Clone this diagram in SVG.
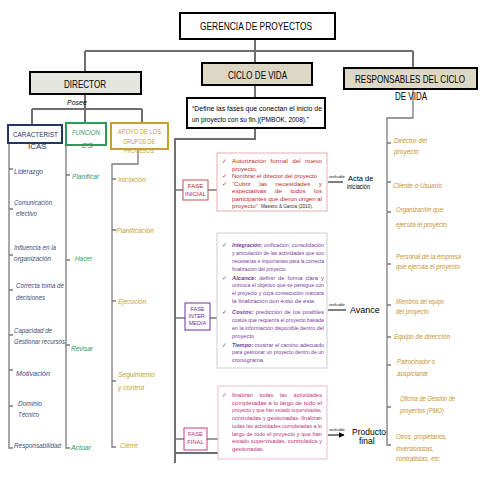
<svg xmlns="http://www.w3.org/2000/svg" width="480" height="480" viewBox="0 0 480 480">
<defs>
<marker id="ah" viewBox="0 0 10 10" refX="9" refY="5" markerWidth="6" markerHeight="6" orient="auto"><path d="M0,0 L10,5 L0,10 z" fill="#000"/></marker>
<style>
text{font-family:"Liberation Sans",Arial,sans-serif}
.hdr{fill:#000;font-size:11px}
.main{stroke:#6f6f6f;stroke-width:2;fill:none}
.thin{stroke:#7a7a7a;stroke-width:1.3;fill:none}
.nv{fill:#3a4d7a;font-size:8px;font-style:italic}
.gr{fill:#2e9a5a;font-size:8px;font-style:italic}
.gd{fill:#c9a030;font-size:8px;font-style:italic}
.or{fill:#c8922a;font-size:8px;font-style:italic}
.t1{fill:#c0282d;font-size:6.2px}
.t2{fill:#7a3a9a;font-size:5.8px}
.t3{fill:#c0307a;font-size:5.7px}
.ver{font-size:3.5px;fill:#000}
</style>
</defs>

<g id="connectors">
<path class="main" d="M255,39 V51 M85,51 H413 M85,51 V72 M255,51 V63 M413,51 V68"/>
<path class="main" d="M85,94 V109 M32,109 H142 M32,109 V125 M85,109 V123 M142,109 V123"/>
<path class="main" d="M255,85 V98 M255,128 V139 H175 V463 M175,453 H218"/>
<path class="thin" d="M175,190 H183 M208,190 H217 M175,318 H185 M210,318 H217 M175,439 H184 M207,439 H218"/>
<path class="thin" d="M9,143 V448 H13 M9,169 H13 M9,209 H13 M9,255 H13 M9,290 H13 M9,335 H13 M9,370 H13 M9,406 H13"/>
<path class="thin" d="M66,145 V448 H70 M66,175 H70 M66,260 H70 M66,345 H70"/>
<path class="thin" d="M138,149 V164 H112 V447 H116 M112,179 H116 M112,230 H116 M112,301 H116 M112,381 H116"/>
<path class="thin" d="M413,89 V118 H387 V445 H391 M387,143 H391 M387,182 H391 M387,212 H391 M387,264 H391 M387,305 H391 M387,337 H391 M387,365 H391 M387,407 H391"/>
<path stroke="#000" stroke-width="1" d="M328,182 H343 M328,310 H346 M328,435 H344" marker-end="url(#ah)"/>
<text class="ver" x="329" y="178">verificable</text>
<text class="ver" x="329" y="306">verificable</text>
<text class="ver" x="329" y="431">verificable</text>
</g>

<g id="gerencia">
<rect x="180" y="13" width="155" height="26" fill="#fff" stroke="#000" stroke-width="2"/>
<text class="hdr" x="200" y="30" textLength="112" lengthAdjust="spacingAndGlyphs">GERENCIA DE  PROYECTOS</text>
</g>

<g id="director">
<rect x="30" y="72" width="111" height="22" fill="#e6e6e1" stroke="#000" stroke-width="2"/>
<text class="hdr" x="64" y="88" font-size="12" textLength="42" lengthAdjust="spacingAndGlyphs">DIRECTOR</text>
<text x="67" y="105" font-size="7" font-style="italic" fill="#000">Posee</text>
</g>

<g id="ciclo">
<rect x="202" y="63" width="110" height="22" fill="#ddd8c6" stroke="#000" stroke-width="2"/>
<text class="hdr" x="228" y="79" textLength="59" lengthAdjust="spacingAndGlyphs">CICLO DE VIDA</text>
</g>

<g id="cita">
<rect x="187" y="98" width="138" height="30" fill="#fff" stroke="#000" stroke-width="2"/>
<text x="192" y="111" font-size="7.6" textLength="130" lengthAdjust="spacingAndGlyphs">“Define las fases que conectan el inicio de</text>
<text x="192" y="122" font-size="7.6" textLength="117" lengthAdjust="spacingAndGlyphs">un proyecto con su fin.|(PMBOK, 2008).”</text>
</g>

<g id="responsables">
<rect x="344" y="68" width="133" height="21" fill="#ddd8c6" stroke="#000" stroke-width="2"/>
<text class="hdr" x="355" y="83" textLength="110" lengthAdjust="spacingAndGlyphs">RESPONSABLES DEL  CICLO</text>
<text class="hdr" x="395" y="100" textLength="32" lengthAdjust="spacingAndGlyphs">DE VIDA</text>
</g>

<g id="caracteristicas">
<rect x="8" y="125" width="54" height="18" fill="#fff" stroke="#1f3864" stroke-width="2"/>
<text x="13" y="137" font-size="8" fill="#1f3864" textLength="45" lengthAdjust="spacingAndGlyphs">CARACTERIST</text>
<text x="28" y="149" font-size="8" fill="#1f3864">ICAS</text>
</g>

<g id="funciones">
<rect x="66" y="123" width="40" height="22" fill="#fff" stroke="#2e9a5a" stroke-width="2"/>
<text x="72" y="135" font-size="8" font-style="italic" fill="#2e9a5a" textLength="28" lengthAdjust="spacingAndGlyphs">FUNCION</text>
<text x="82" y="148" font-size="8" font-style="italic" fill="#2e9a5a">ES</text>
</g>

<g id="apoyo">
<rect x="111" y="123" width="57" height="26" fill="#fff" stroke="#c9a030" stroke-width="2"/>
<text x="118" y="134" font-size="7" fill="#c9a030" textLength="43" lengthAdjust="spacingAndGlyphs">APOYO DE LOS</text>
<text x="123" y="144" font-size="7" fill="#c9a030" textLength="32" lengthAdjust="spacingAndGlyphs">GRUPOS DE</text>
<text x="124" y="153" font-size="7" fill="#c9a030" textLength="30" lengthAdjust="spacingAndGlyphs">PROCESOS</text>
</g>

<g id="lista-caracteristicas">
<text class="nv" x="14" y="174" textLength="29" lengthAdjust="spacingAndGlyphs">Liderazgo</text>
<text class="nv" x="14" y="205" textLength="38" lengthAdjust="spacingAndGlyphs">Comunicación</text>
<text class="nv" x="16" y="216" textLength="21" lengthAdjust="spacingAndGlyphs">efectivo</text>
<text class="nv" x="14" y="250" textLength="42" lengthAdjust="spacingAndGlyphs">Influencia en la</text>
<text class="nv" x="14" y="261" textLength="37" lengthAdjust="spacingAndGlyphs">organización</text>
<text class="nv" x="16" y="288" textLength="48" lengthAdjust="spacingAndGlyphs">Correcta toma de</text>
<text class="nv" x="16" y="300" textLength="29" lengthAdjust="spacingAndGlyphs">decisiones</text>
<text class="nv" x="14" y="333" textLength="38" lengthAdjust="spacingAndGlyphs">Capacidad de</text>
<text class="nv" x="14" y="344" textLength="51" lengthAdjust="spacingAndGlyphs">Gestionar recursos</text>
<text class="nv" x="16" y="376" textLength="34" lengthAdjust="spacingAndGlyphs">Motivación</text>
<text class="nv" x="18" y="406" textLength="24" lengthAdjust="spacingAndGlyphs">Dominio</text>
<text class="nv" x="18" y="417" textLength="21" lengthAdjust="spacingAndGlyphs">Técnico</text>
<text class="nv" x="14" y="448" textLength="47" lengthAdjust="spacingAndGlyphs">Responsabilidad</text>
</g>

<g id="lista-funciones">
<text class="gr" x="72" y="179" textLength="27" lengthAdjust="spacingAndGlyphs">Planificar</text>
<text class="gr" x="75" y="261" textLength="17" lengthAdjust="spacingAndGlyphs">Hacer</text>
<text class="gr" x="71" y="351" textLength="22" lengthAdjust="spacingAndGlyphs">Revisar</text>
<text class="gr" x="71" y="450" textLength="20" lengthAdjust="spacingAndGlyphs">Actuar</text>
</g>

<g id="lista-apoyo">
<text class="gd" x="118" y="182" textLength="28" lengthAdjust="spacingAndGlyphs">Iniciación</text>
<text class="gd" x="116" y="233" textLength="38" lengthAdjust="spacingAndGlyphs">Planificación</text>
<text class="gd" x="118" y="304" textLength="28" lengthAdjust="spacingAndGlyphs">Ejecución</text>
<text class="gd" x="118" y="377" textLength="37" lengthAdjust="spacingAndGlyphs">Seguimiento</text>
<text class="gd" x="118" y="390" textLength="26" lengthAdjust="spacingAndGlyphs">y control</text>
<text class="gd" x="120" y="448" textLength="18" lengthAdjust="spacingAndGlyphs">Cierre</text>
</g>

<g id="lista-responsables">
<text class="or" x="394" y="143" textLength="33" lengthAdjust="spacingAndGlyphs">Director del</text>
<text class="or" x="394" y="154" textLength="25" lengthAdjust="spacingAndGlyphs">proyecto</text>
<text class="or" x="393" y="188" textLength="49" lengthAdjust="spacingAndGlyphs">Cliente o Usuario</text>
<text class="or" x="396" y="212" textLength="47" lengthAdjust="spacingAndGlyphs">Organización que</text>
<text class="or" x="396" y="227" textLength="51" lengthAdjust="spacingAndGlyphs">ejecuta el proyecto</text>
<text class="or" x="396" y="259" textLength="65" lengthAdjust="spacingAndGlyphs">Personal de la empresa</text>
<text class="or" x="396" y="269" textLength="64" lengthAdjust="spacingAndGlyphs">que ejecuta el proyecto</text>
<text class="or" x="396" y="304" textLength="48" lengthAdjust="spacingAndGlyphs">Miembros del equipo</text>
<text class="or" x="396" y="314" textLength="33" lengthAdjust="spacingAndGlyphs">del proyecto</text>
<text class="or" x="394" y="339" textLength="56" lengthAdjust="spacingAndGlyphs">Equipo de dirección</text>
<text class="or" x="397" y="364" textLength="38" lengthAdjust="spacingAndGlyphs">Patrocinador o</text>
<text class="or" x="397" y="376" textLength="31" lengthAdjust="spacingAndGlyphs">auspiciante</text>
<text class="or" x="400" y="401" textLength="55" lengthAdjust="spacingAndGlyphs">Oficina de Gestión de</text>
<text class="or" x="400" y="413" textLength="44" lengthAdjust="spacingAndGlyphs">proyectos (PMO)</text>
<text class="or" x="396" y="439" textLength="51" lengthAdjust="spacingAndGlyphs">Otros: propietarios,</text>
<text class="or" x="396" y="451" textLength="38" lengthAdjust="spacingAndGlyphs">inversionistas,</text>
<text class="or" x="396" y="461" textLength="45" lengthAdjust="spacingAndGlyphs">contratistas, etc.</text>
</g>

<g id="fase-inicial">
<rect x="183" y="180" width="25" height="20" fill="#fff" stroke="#c0504d" stroke-width="1"/>
<text x="195.5" y="188" font-size="6" fill="#c0282d" text-anchor="middle">FASE</text>
<text x="195.5" y="196" font-size="6" fill="#c0282d" text-anchor="middle">INICIAL</text>
<rect x="217" y="153" width="110" height="58" fill="#fff" stroke="#e8b0b0" stroke-width="1"/>
<text class="t1" x="222" y="163">✓</text>
<text class="t1" y="163"><tspan x="232">Autorización</tspan><tspan x="270.6">formal</tspan><tspan x="292.3">del</tspan><tspan x="305.1">nuevo</tspan></text>
<text class="t1" x="232" y="170.5">proyecto.</text>
<text class="t1" x="222" y="178">✓</text>
<text class="t1" x="232" y="178" textLength="85" lengthAdjust="spacingAndGlyphs">Nombrar el director del proyecto</text>
<text class="t1" x="222" y="185.5">✓</text>
<text class="t1" y="185.5"><tspan x="232">“Cubrir</tspan><tspan x="259.3">las</tspan><tspan x="275.6">necesidades</tspan><tspan x="318.8">y</tspan></text>
<text class="t1" y="193"><tspan x="232">expectativas</tspan><tspan x="275">de</tspan><tspan x="290.4">todos</tspan><tspan x="314.1">los</tspan></text>
<text class="t1" x="232" y="200.5" textLength="90" lengthAdjust="spacingAndGlyphs">participantes que dieron origen al</text>
<text class="t1" x="232" y="208">proyecto”</text>
<text x="261" y="208" font-size="5.6" fill="#3a2a2a" textLength="52" lengthAdjust="spacingAndGlyphs">Maestro &amp; García (2010).</text>
<text x="348" y="181" font-size="7.5" fill="#000">Acta de</text>
<text x="347" y="189" font-size="7.5" fill="#000" textLength="23" lengthAdjust="spacingAndGlyphs">iniciación</text>
</g>

<g id="fase-intermedia">
<rect x="185" y="303" width="25" height="27" fill="#fff" stroke="#7030a0" stroke-width="1"/>
<text x="197.5" y="311" font-size="5.5" fill="#7030a0" text-anchor="middle">FASE</text>
<text x="197.5" y="318" font-size="5.5" fill="#7030a0" text-anchor="middle">INTER-</text>
<text x="197.5" y="325" font-size="5.5" fill="#7030a0" text-anchor="middle">MEDIA</text>
<rect x="217" y="233" width="110" height="135" fill="#fff" stroke="#cfcfcf" stroke-width="1"/>
<text class="t2" x="222" y="247">✓</text>
<text class="t2" x="232" y="247" textLength="92" lengthAdjust="spacingAndGlyphs"><tspan font-weight="bold" font-style="italic">Integración:</tspan> unificación, consolidación</text>
<text class="t2" x="232" y="255" textLength="92" lengthAdjust="spacingAndGlyphs">y articulación de las actividades que son</text>
<text class="t2" x="232" y="262.5" textLength="92" lengthAdjust="spacingAndGlyphs">necesarias e importantes para la correcta</text>
<text class="t2" x="232" y="270.5" textLength="55" lengthAdjust="spacingAndGlyphs">finalización del proyecto.</text>
<text class="t2" x="222" y="279.5">✓</text>
<text class="t2" y="279.5"><tspan x="232" font-weight="bold" font-style="italic">Alcance:</tspan><tspan x="259.3">definir</tspan><tspan x="278.1">de</tspan><tspan x="287.6">forma</tspan><tspan x="305.4">clara</tspan><tspan x="321.1">y</tspan></text>
<text class="t2" x="232" y="287" textLength="92" lengthAdjust="spacingAndGlyphs">unívoca el objetivo que se persigue con</text>
<text class="t2" x="232" y="295" textLength="92" lengthAdjust="spacingAndGlyphs">el proyecto y cuya consecución marcará</text>
<text class="t2" x="232" y="303" textLength="84" lengthAdjust="spacingAndGlyphs">la finalización con éxito de este.</text>
<text class="t2" x="222" y="314">✓</text>
<text class="t2" y="314"><tspan x="232" font-weight="bold" font-style="italic">Costos:</tspan><tspan x="255.8">predicción</tspan><tspan x="284.4">de</tspan><tspan x="293.1">los</tspan><tspan x="302.7">posibles</tspan></text>
<text class="t2" x="232" y="321.5" textLength="92" lengthAdjust="spacingAndGlyphs">costos que requerirá el proyecto basada</text>
<text class="t2" x="232" y="329.5" textLength="92" lengthAdjust="spacingAndGlyphs">en la información disponible dentro del</text>
<text class="t2" x="232" y="337.5">proyecto</text>
<text class="t2" x="222" y="346.5">✓</text>
<text class="t2" x="232" y="346.5" textLength="92" lengthAdjust="spacingAndGlyphs"><tspan font-weight="bold" font-style="italic">Tiempo:</tspan> mostrar el camino adecuado</text>
<text class="t2" x="232" y="354" textLength="92" lengthAdjust="spacingAndGlyphs">para gestionar un proyecto dentro de un</text>
<text class="t2" x="232" y="361.5">cronograma.</text>
<text x="350" y="313" font-size="9" fill="#000">Avance</text>
</g>

<g id="fase-final">
<rect x="184" y="428" width="23" height="22" fill="#fff" stroke="#d0348a" stroke-width="1"/>
<text x="195.5" y="436" font-size="5.8" fill="#c0307a" text-anchor="middle">FASE</text>
<text x="195.5" y="444" font-size="5.8" fill="#c0307a" text-anchor="middle">FINAL</text>
<rect x="218" y="386" width="109" height="73" fill="#fff" stroke="#f0b8d0" stroke-width="1"/>
<text class="t3" x="222" y="396.5">✓</text>
<text class="t3" y="396.5"><tspan x="232">finalizan</tspan><tspan x="259.4">todas</tspan><tspan x="279.8">las</tspan><tspan x="293.6">actividades</tspan></text>
<text class="t3" x="232" y="404.5" textLength="90" lengthAdjust="spacingAndGlyphs">completadas a lo largo de todo el</text>
<text class="t3" x="232" y="412" textLength="90" lengthAdjust="spacingAndGlyphs">proyecto y que han estado supervisadas,</text>
<text class="t3" x="232" y="419.5" textLength="90" lengthAdjust="spacingAndGlyphs">controladas y gestionadas. finalizan</text>
<text class="t3" x="232" y="427.5" textLength="90" lengthAdjust="spacingAndGlyphs">todas las actividades completadas a lo</text>
<text class="t3" x="232" y="435.5" textLength="90" lengthAdjust="spacingAndGlyphs">largo de todo el proyecto y que han</text>
<text class="t3" x="232" y="443" textLength="90" lengthAdjust="spacingAndGlyphs">estado supervisadas, controlados y</text>
<text class="t3" x="232" y="450.5">gestionadas.</text>
<text x="352" y="434.5" font-size="8.5" fill="#000">Producto</text>
<text x="359" y="444" font-size="8.5" fill="#000">final</text>
</g>
</svg>
